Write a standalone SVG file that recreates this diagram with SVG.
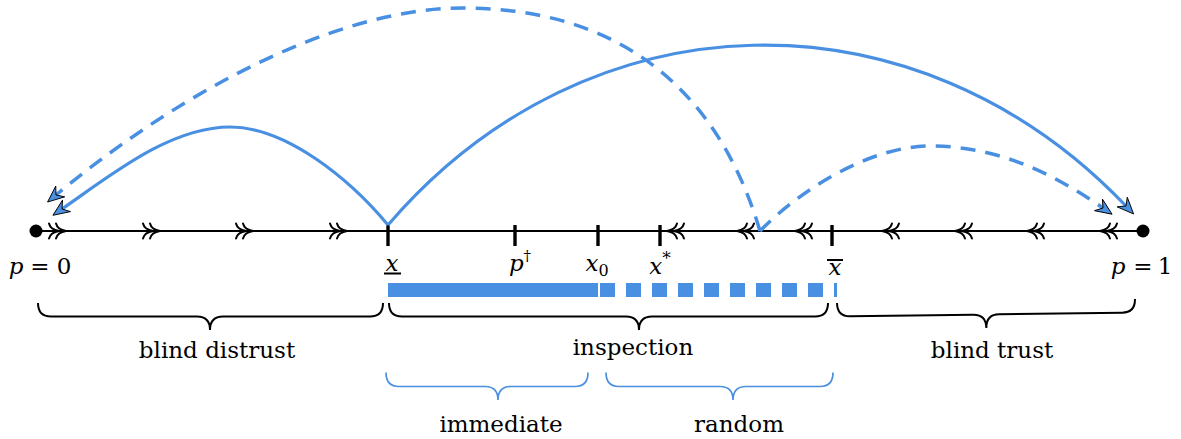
<svg xmlns="http://www.w3.org/2000/svg" width="1181" height="439" viewBox="0 0 1181 439">
<style>
.arc{fill:none;stroke:#4a90e2;stroke-width:3.2}
.dash{stroke-dasharray:15 10;stroke-width:3.5}
.axis{stroke:#000;stroke-width:1.8;fill:none}
.tick{stroke:#000;stroke-width:3.4}
.chev{fill:none;stroke:#000;stroke-width:2;stroke-linecap:round}
.brace{fill:none;stroke:#000;stroke-width:2}
.bbrace{fill:none;stroke:#4a90e2;stroke-width:1.7}
text{font-family:'DejaVu Serif','Liberation Serif',serif}
.lbl{font-size:23px;fill:#000}
.math{font-size:23px;fill:#000}
.it{font-style:italic}
.bar{fill:#4a90e2}
</style>
<defs>
<marker id="ah" markerUnits="userSpaceOnUse" viewBox="-18 -9 20 18" markerWidth="20" markerHeight="18" refX="-11" refY="0" orient="auto">
<path d="M0,0 L-16.5,-7 L-11,0 L-16.5,7 Z" fill="#4a90e2" stroke="#000" stroke-width="0.9"/>
</marker>
<g id="rr" class="chev"><path d="M-17,-7.5 C-16,-3.5 -13,-1 -7,0 C-13,1 -16,3.5 -17,7.5 M-10,-7.5 C-9,-3.5 -6,-1 0,0 C-6,1 -9,3.5 -10,7.5"/></g>
</defs>

<g id="axis">
<line class="axis" x1="36" y1="231" x2="1143" y2="231"/>
<circle cx="36" cy="231" r="6.5" fill="#000"/>
<circle cx="1143" cy="231" r="6.5" fill="#000"/>
<line class="tick" x1="388" y1="225" x2="388" y2="246"/>
<line class="tick" x1="515" y1="225" x2="515" y2="246"/>
<line class="tick" x1="598" y1="225" x2="598" y2="246"/>
<line class="tick" x1="660" y1="225" x2="660" y2="246"/>
<line class="tick" x1="832" y1="225" x2="832" y2="246"/>
</g>

<g id="flow-marks">
<use href="#rr" transform="translate(66,231)"/>
<use href="#rr" transform="translate(160,231)"/>
<use href="#rr" transform="translate(253,231)"/>
<use href="#rr" transform="translate(347,231)"/>
<use href="#rr" transform="translate(667,231) scale(-1,1)"/>
<use href="#rr" transform="translate(737,231) scale(-1,1)"/>
<use href="#rr" transform="translate(795,231) scale(-1,1)"/>
<use href="#rr" transform="translate(882,231) scale(-1,1)"/>
<use href="#rr" transform="translate(955,231) scale(-1,1)"/>
<use href="#rr" transform="translate(1027,231) scale(-1,1)"/>
<use href="#rr" transform="translate(1100,231) scale(-1,1)"/>
</g>

<g id="labels">
<text class="math"><tspan class="it" x="16" y="274" text-anchor="middle">p</tspan><tspan x="40" y="274" text-anchor="middle">=</tspan><tspan x="64" y="274" text-anchor="middle">0</tspan></text>
<text class="math"><tspan class="it" x="1118" y="274" text-anchor="middle">p</tspan><tspan x="1143" y="274" text-anchor="middle">=</tspan><tspan x="1165" y="274" text-anchor="middle">1</tspan></text>
<g id="lbl-xlow"><text class="math it" x="392" y="271" text-anchor="middle">x</text><line x1="384" y1="273.5" x2="401" y2="273.5" stroke="#000" stroke-width="2"/></g>
<text id="lbl-pdag" class="math" x="520" y="271" text-anchor="middle"><tspan class="it">p</tspan><tspan font-size="15" dy="-10">†</tspan></text>
<text id="lbl-x0" class="math" x="597" y="271" text-anchor="middle"><tspan class="it">x</tspan><tspan font-size="16" dy="5">0</tspan></text>
<text id="lbl-xstar" class="math" x="660" y="274" text-anchor="middle"><tspan class="it">x</tspan><tspan font-size="17" dy="-10">*</tspan></text>
<g id="lbl-xbar"><text class="math it" x="835" y="275" text-anchor="middle">x</text><line x1="827" y1="260" x2="843" y2="260" stroke="#000" stroke-width="2"/></g>
</g>

<g id="inspection-bar">
<rect class="bar" x="388" y="283" width="210" height="14"/>
<line x1="600" y1="290" x2="837" y2="290" stroke="#4a90e2" stroke-width="14" stroke-dasharray="15 11"/>
</g>

<g id="braces">
<g id="blind-distrust">
<path class="brace" d="M38,303 C38,312 42,316.5 51,316.5 L197,316.5 C206,316.5 210,321 210,330 C210,321 214,316.5 223,316.5 L370,316.5 C379,316.5 383,312 383,303"/>
<text class="lbl" x="217" y="358" text-anchor="middle">blind distrust</text>
</g>
<g id="inspection">
<path class="brace" d="M389,303 C389,312 393,316.5 402,316.5 L626,316.5 C635,316.5 639,321 639,330 C639,321 643,316.5 652,316.5 L815,316.5 C824,316.5 828,312 828,303"/>
<text class="lbl" x="633" y="355" text-anchor="middle">inspection</text>
</g>
<g id="blind-trust">
<path class="brace" transform="rotate(-0.77 837 303)" d="M837,303 C837,312 841,316.5 850,316.5 L973,316.5 C982,316.5 986,321 986,330 C986,321 990,316.5 999,316.5 L1122,316.5 C1131,316.5 1135,312 1135,303"/>
<text class="lbl" x="992" y="358" text-anchor="middle">blind trust</text>
</g>
<g id="immediate">
<path class="bbrace" d="M386,372.5 C386,381 390,386.5 399,386.5 L485,386.5 C494,386.5 498,391 498,400 C498,391 502,386.5 511,386.5 L575,386.5 C584,386.5 588,381 588,372.5"/>
<text class="lbl" x="501" y="432" text-anchor="middle">immediate</text>
</g>
<g id="random">
<path class="bbrace" d="M606,372.5 C606,381 610,386.5 619,386.5 L720,386.5 C729,386.5 733,391 733,400 C733,391 737,386.5 746,386.5 L820,386.5 C829,386.5 833,381 833,372.5"/>
<text class="lbl" x="739" y="432" text-anchor="middle">random</text>
</g>
</g>

<g id="connectors">
<path class="arc" marker-end="url(#ah)" d="M388,225 C348,177 285,127 230,127 C170,127 111,175 62,209"/>
<path class="arc" marker-end="url(#ah)" d="M388,225 C588,-8 915,-15 1126,206"/>
<path class="arc dash" marker-end="url(#ah)" d="M760,231 C715,80 610,8 463,8 C330,8 170,100 56,195"/>
<path class="arc dash" marker-end="url(#ah)" d="M760,231 C800,190 870,146 930,146 C1000,146 1055,175 1103,208"/>
</g>
</svg>
